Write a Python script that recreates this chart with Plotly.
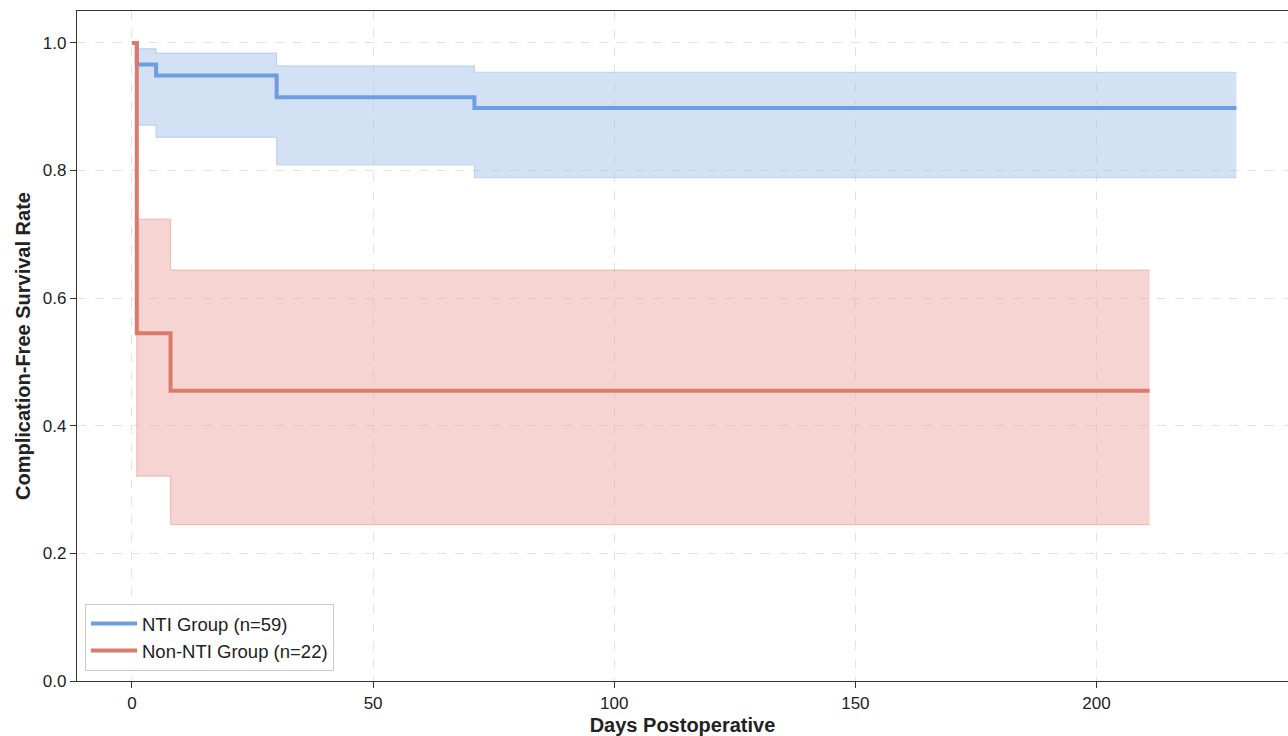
import plotly.graph_objects as go

# NTI group (n=59)
nti_t = [0, 1, 5, 30, 71, 229]
nti_s = [1.0, 0.966, 0.949, 0.915, 0.898, 0.898]
nti_hi = [1.0, 0.991, 0.984, 0.964, 0.954, 0.954]
nti_lo = [1.0, 0.871, 0.852, 0.809, 0.789, 0.789]

# Non-NTI group (n=22)
non_t = [0, 1, 8, 211]
non_s = [1.0, 0.545, 0.455, 0.455]
non_hi = [1.0, 0.724, 0.644, 0.644]
non_lo = [1.0, 0.321, 0.245, 0.245]

x_ticks = [0, 50, 100, 150, 200]
y_ticks = [0.0, 0.2, 0.4, 0.6, 0.8, 1.0]

BLUE = "#6e9ee0"
RED = "#dc7b6c"
BLUE_FILL = "rgba(160,194,232,0.47)"
RED_FILL = "rgba(232,160,154,0.45)"

fig = go.Figure()

def add_group(t, s, hi, lo, color, fill, edge, name):
    fig.add_trace(go.Scatter(x=t, y=hi, mode="lines", line=dict(shape="hv", width=1.2, color=edge),
                             showlegend=False, hoverinfo="skip"))
    fig.add_trace(go.Scatter(x=t, y=lo, mode="lines", line=dict(shape="hv", width=1.2, color=edge),
                             fill="tonexty", fillcolor=fill, showlegend=False, hoverinfo="skip"))
    fig.add_trace(go.Scatter(x=t, y=s, mode="lines", line=dict(shape="hv", width=4, color=color),
                             name=name))

add_group(nti_t, nti_s, nti_hi, nti_lo, BLUE, BLUE_FILL, "rgba(150,185,235,0.5)", "NTI Group (n=59)")
add_group(non_t, non_s, non_hi, non_lo, RED, RED_FILL, "rgba(230,150,140,0.5)", "Non-NTI Group (n=22)")

font = "Liberation Sans, Arial, sans-serif"
fig.update_layout(
    width=1288, height=736,
    margin=dict(l=77, r=0, t=11, b=55),
    plot_bgcolor="white", paper_bgcolor="white",
    font=dict(family=font, size=18, color="#222"),
    legend=dict(x=0.0066, y=0.015, xanchor="left", yanchor="bottom", traceorder="normal",
                bordercolor="#cccccc", borderwidth=1, bgcolor="rgba(255,255,255,0.85)",
                font=dict(size=18.5, color="#222"), tracegroupgap=0, itemwidth=46),
    showlegend=True,
)
fig.update_xaxes(
    range=[-11.4, 239.7], tickvals=x_ticks, ticktext=[str(v) for v in x_ticks],
    showgrid=True, gridcolor="#e3e3e3", griddash="dash", gridwidth=1,
    showline=True, linecolor="#333", linewidth=1.3, mirror=True,
    ticks="outside", ticklen=6, tickcolor="#333", zeroline=False, automargin=False,
    tickfont=dict(size=17),
    title=dict(text="<b>Days Postoperative</b>", font=dict(size=20, family=font), standoff=6),
)
fig.update_yaxes(
    range=[0, 1.05], tickvals=y_ticks, ticktext=[f"{v:.1f}" for v in y_ticks],
    showgrid=True, gridcolor="#e3e3e3", griddash="dash", gridwidth=1,
    showline=True, linecolor="#333", linewidth=1.3, mirror=False,
    ticks="outside", ticklen=6, tickcolor="#333", zeroline=False, automargin=False,
    tickfont=dict(size=17),
    title=dict(text="<b>Complication-Free Survival Rate</b>", font=dict(size=20, family=font), standoff=6),
)

fig.write_html("out.html", config={"displayModeBar": False},
               post_script="document.body.style.margin='0';document.body.style.overflow='hidden';")
